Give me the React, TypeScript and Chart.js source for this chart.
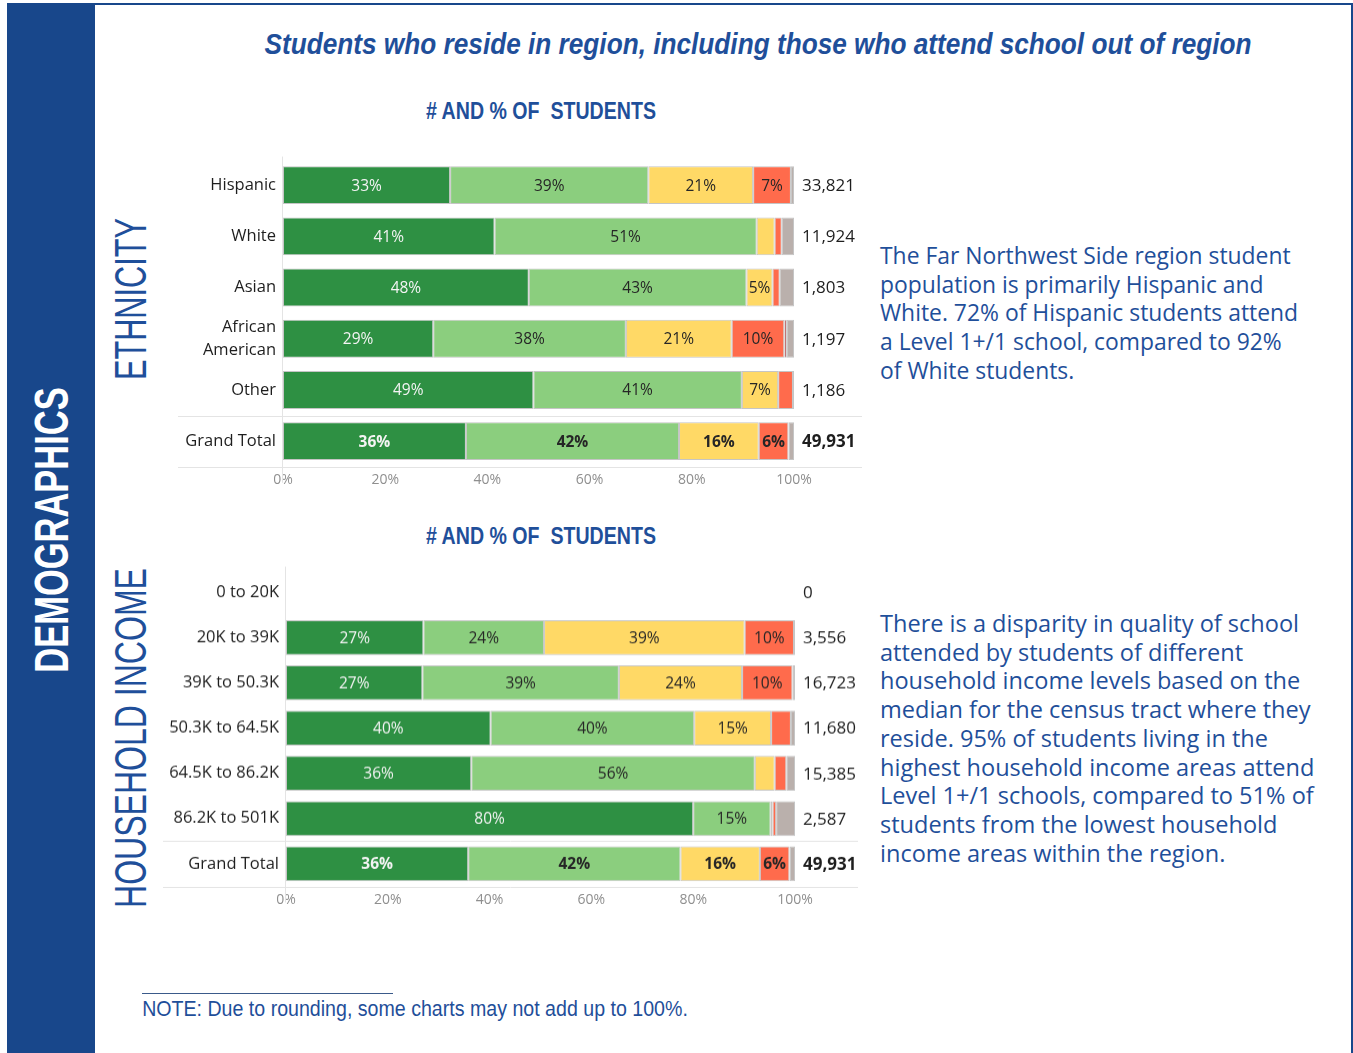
import React, { useEffect, useLayoutEffect, useRef, useState } from 'react';
import { Chart, registerables } from 'chart.js';

Chart.register(...registerables);

// ---------- DATA ----------
const seriesNames = ['Level 1+', 'Level 1', 'Level 2+', 'Level 2', 'Level 3', 'No rating'];
const seriesColors = ['#2E9043', '#8BCE7E', '#FFD966', '#FF6B4C', '#A31B1B', '#BAB0AC'];

const ethnicityCategories: (string | string[])[] = ['Hispanic', 'White', 'Asian', ['African', 'American'], 'Other', 'Grand Total'];
const ethLevel1Plus = [32.7, 41.4, 48.1, 29.4, 49.0, 35.8];
const ethLevel1 = [38.8, 51.3, 42.6, 37.7, 40.8, 41.7];
const ethLevel2Plus = [20.5, 3.5, 5.1, 20.7, 7.1, 15.6];
const ethLevel2 = [7.4, 1.4, 1.4, 10.3, 2.9, 5.8];
const ethLevel3 = [0, 0, 0, 0.5, 0, 0.1];
const ethNoRating = [0.6, 2.4, 2.8, 1.4, 0.2, 1.0];
const ethCounts = [33821, 11924, 1803, 1197, 1186, 49931];

const incomeCategories = ['0 to 20K', '20K to 39K', '39K to 50.3K', '50.3K to 64.5K', '64.5K to 86.2K', '86.2K to 501K', 'Grand Total'];
const incLevel1Plus = [0, 27.0, 26.8, 40.2, 36.4, 80.0, 35.8];
const incLevel1 = [0, 23.7, 38.6, 40.0, 55.7, 15.2, 41.7];
const incLevel2Plus = [0, 39.4, 24.2, 15.1, 3.9, 0.4, 15.6];
const incLevel2 = [0, 9.7, 9.9, 3.9, 2.3, 0.7, 5.8];
const incLevel3 = [0, 0.2, 0, 0, 0, 0, 0.1];
const incNoRating = [0, 0, 0.5, 0.8, 1.7, 3.7, 1.0];
const incCounts = [0, 3556, 16723, 11680, 15385, 2587, 49931];

const xTickStep = 20;
const xMax = 100;

const paragraph1 = [
  'The Far Northwest Side region student',
  'population is primarily Hispanic and',
  'White. 72% of Hispanic students attend',
  'a Level 1+/1 school, compared to 92%',
  'of White students.',
];
const paragraph2 = [
  'There is a disparity in quality of school',
  'attended by students of different',
  'household income levels based on the',
  'median for the census tract where they',
  'reside. 95% of students living in the',
  'highest household income areas attend',
  'Level 1+/1 schools, compared to 51% of',
  'students from the lowest household',
  'income areas within the region.',
];

// ---------- STYLE ----------
const BLUE = '#18478B';
const TEXT_BLUE = '#1F4F9A';
const NARROW = '"Liberation Sans Narrow", "Arial Narrow", "Liberation Sans", sans-serif';
const CHART_FONT = '"Open Sans", "Noto Sans", sans-serif';

Chart.defaults.font.family = CHART_FONT;

function Label({ text, cx, cy, width, font, color, rotate = 0 }: any) {
  const ref = useRef<HTMLDivElement>(null);
  const [s, setS] = useState(1);
  useLayoutEffect(() => {
    if (ref.current) {
      const w = ref.current.offsetWidth;
      if (w > 0) setS(width / w);
    }
  }, [text, width, font]);
  return (
    <div
      ref={ref}
      style={{
        position: 'absolute', left: cx, top: cy, whiteSpace: 'pre', font, color, lineHeight: 1,
        transform: `translate(-50%,-50%) rotate(${rotate}deg) scaleX(${s})`,
      }}
    >
      {text}
    </div>
  );
}

function Paragraph({ lines, left, top, lineHeight, targetWidth, refLine, color }: any) {
  const ref = useRef<HTMLSpanElement>(null);
  const base = 21;
  const [size, setSize] = useState(base);
  useLayoutEffect(() => {
    if (ref.current) {
      const w = ref.current.offsetWidth;
      if (w > 0) setSize(base * targetWidth / w);
    }
  }, []);
  return (
    <div style={{ position: 'absolute', left, top, color, fontFamily: CHART_FONT, fontSize: size, lineHeight: `${lineHeight}px`, whiteSpace: 'nowrap' }}>
      <span ref={ref} style={{ position: 'absolute', visibility: 'hidden', fontSize: base }}>{lines[refLine]}</span>
      {lines.map((l: string, i: number) => <div key={i}>{l}</div>)}
    </div>
  );
}

function StackedChart(props: any) {
  const { left, top, width, height, yWidth, padRight, xHeight, categories, series, counts, barPct, sepLeft, sepRight } = props;
  const ref = useRef<HTMLCanvasElement>(null);
  useEffect(() => {
    const overlay = {
      id: 'overlay',
      beforeDatasetsDraw(chart: any) {
        const { ctx, chartArea: a } = chart;
        const y = chart.scales.y;
        const n = categories.length;
        ctx.save();
        ctx.strokeStyle = '#e4e4e4';
        ctx.lineWidth = 1;
        const ySep = Math.round((y.getPixelForValue(n - 2) + y.getPixelForValue(n - 1)) / 2) + 0.5;
        const yBot = Math.round(a.bottom) + 0.5;
        ctx.beginPath();
        ctx.moveTo(sepLeft, ySep); ctx.lineTo(chart.width - sepRight, ySep);
        ctx.moveTo(sepLeft, yBot); ctx.lineTo(chart.width - sepRight, yBot);
        const xl = Math.round(a.left) - 0.5;
        ctx.moveTo(xl, a.top - 3); ctx.lineTo(xl, a.bottom + 16);
        ctx.stroke();
        ctx.restore();
      },
      afterDatasetsDraw(chart: any) {
        const { ctx, chartArea: a } = chart;
        const y = chart.scales.y;
        const n = categories.length;
        ctx.save();
        ctx.textBaseline = 'middle';
        chart.data.datasets.forEach((ds: any, i: number) => {
          const meta = chart.getDatasetMeta(i);
          meta.data.forEach((el: any, j: number) => {
            const v = ds.data[j];
            if (v < 4.5) return;
            const bold = j === n - 1;
            ctx.font = `${bold ? 'bold ' : ''}15.5px ${CHART_FONT}`;
            ctx.fillStyle = i === 0 ? '#f4f4f4' : '#262626';
            ctx.textAlign = 'center';
            ctx.fillText(`${Math.round(v)}%`, (el.x + el.base) / 2, el.y + 1);
          });
        });
        counts.forEach((c: number, j: number) => {
          const bold = j === n - 1;
          ctx.font = `${bold ? 'bold ' : ''}17px ${CHART_FONT}`;
          ctx.fillStyle = '#1e1e1e';
          ctx.textAlign = 'left';
          ctx.fillText(c.toLocaleString('en-US'), a.right + 8, y.getPixelForValue(j) + 1);
        });
        ctx.restore();
      },
    };
    const chart = new Chart(ref.current!, {
      type: 'bar',
      data: {
        labels: categories,
        datasets: series.map((d: number[], i: number) => ({
          label: seriesNames[i],
          data: d,
          backgroundColor: seriesColors[i],
          borderColor: 'rgba(90,90,90,0.35)',
          borderWidth: (c: any) => (c.raw > 0 ? 1 : 0),
          borderSkipped: false,
          barPercentage: barPct,
          categoryPercentage: 1,
        })),
      },
      options: {
        indexAxis: 'y',
        responsive: false,
        animation: false,
        devicePixelRatio: 1,
        layout: { padding: { left: 0, right: padRight, top: 0, bottom: 0 } },
        plugins: { legend: { display: false }, tooltip: { enabled: false }, title: { display: false } },
        scales: {
          x: {
            type: 'linear', stacked: true, min: 0, max: xMax,
            grid: { display: false, drawTicks: false },
            border: { display: false },
            ticks: { stepSize: xTickStep, callback: (v: any) => `${v}%`, color: '#8f8f8f', font: { size: 14 }, padding: 5, maxRotation: 0 },
            afterFit: (s: any) => { s.height = xHeight; },
          },
          y: {
            type: 'category', stacked: true,
            grid: { display: false, drawTicks: false },
            border: { display: false },
            ticks: { color: '#1e1e1e', font: { size: 16.5, lineHeight: 1.4 }, padding: 7, autoSkip: false },
            afterFit: (s: any) => { s.width = yWidth; },
          },
        },
      },
      plugins: [overlay],
    } as any);
    return () => chart.destroy();
  }, []);
  return <canvas ref={ref} width={width} height={height} style={{ position: 'absolute', left, top, width, height }} />;
}

export default function App() {
  return (
    <div style={{ position: 'absolute', left: 0, top: 0, width: 1353, height: 1053, background: '#fff', overflow: 'hidden' }}>
      <div style={{ position: 'absolute', left: 7, top: 3, width: 1346, height: 1052, borderTop: `2px solid ${BLUE}`, borderRight: `2px solid ${BLUE}`, boxSizing: 'border-box' }} />
      <div style={{ position: 'absolute', left: 7, top: 3, width: 88, height: 1052, background: BLUE }} />
      <Label text="DEMOGRAPHICS" cx={52} cy={530} width={285} font={`bold 48px ${NARROW}`} color="#fff" rotate={-90} />
      <Label text="ETHNICITY" cx={131} cy={299} width={162} font={`44px ${NARROW}`} color={TEXT_BLUE} rotate={-90} />
      <Label text="HOUSEHOLD INCOME" cx={131} cy={738} width={340} font={`44px ${NARROW}`} color={TEXT_BLUE} rotate={-90} />

      <Label text="Students who reside in region, including those who attend school out of region" cx={758} cy={44} width={987} font={`italic bold 30px ${NARROW}`} color={TEXT_BLUE} />
      <Label text="# AND % OF  STUDENTS" cx={541} cy={111} width={230} font={`bold 23px ${NARROW}`} color={TEXT_BLUE} />
      <Label text="# AND % OF  STUDENTS" cx={541} cy={536} width={230} font={`bold 23px ${NARROW}`} color={TEXT_BLUE} />

      <StackedChart
        left={170} top={140.85} width={700} height={352.15}
        yWidth={113} padRight={76} xHeight={26.25}
        categories={ethnicityCategories}
        series={[ethLevel1Plus, ethLevel1, ethLevel2Plus, ethLevel2, ethLevel3, ethNoRating]}
        counts={ethCounts}
        barPct={0.74}
        sepLeft={8} sepRight={8}
      />
      <StackedChart
        left={158} top={551.15} width={705} height={361.85}
        yWidth={128} padRight={68} xHeight={26.5}
        categories={incomeCategories}
        series={[incLevel1Plus, incLevel1, incLevel2Plus, incLevel2, incLevel3, incNoRating]}
        counts={incCounts}
        barPct={0.77}
        sepLeft={5} sepRight={5}
      />

      <Paragraph lines={paragraph1} left={880} top={242} lineHeight={28.7} targetWidth={411} refLine={0} color={TEXT_BLUE} />
      <Paragraph lines={paragraph2} left={880} top={609} lineHeight={28.7} targetWidth={434} refLine={6} color={TEXT_BLUE} />

      <div style={{ position: 'absolute', left: 142, top: 993, width: 251, height: 1, background: '#3a5a8a' }} />
      <div style={{ position: 'absolute', left: 142, top: 998 }}>
        <Label text="NOTE: Due to rounding, some charts may not add up to 100%." cx={273} cy={11} width={546} font={`22px ${NARROW}`} color={TEXT_BLUE} />
      </div>
    </div>
  );
}
